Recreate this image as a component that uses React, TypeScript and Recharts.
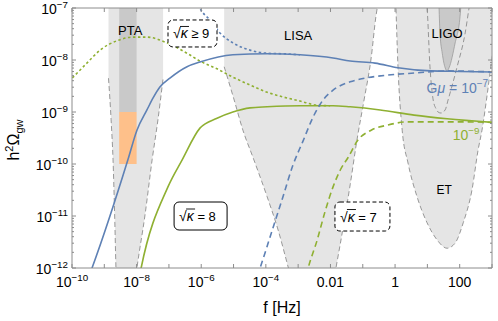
import { Area, ComposedChart, Line, ReferenceDot, XAxis, YAxis } from 'recharts'

const BLUE = '#5e81b5'
const GREEN = '#8fb032'
const LIGHT = '#e5e5e5'
const DARK = '#c9c9c9'
const PTA_ORANGE = '#fec08a'
const EDGE = '#808080'
const FRAME = '#8c8c8c'
const FONT = '"Liberation Sans", Arial, sans-serif'

// fills run a little past the top frame and get clipped there
const TOP = -6.8

// all values are log10: f in Hz, h^2 Omega_gw
const xTicks = [-10, -9, -8, -7, -6, -5, -4, -3, -2, -1, 0, 1, 2, 3]
const xPowLabels = [-10, -8, -6, -4]
const xPlainLabels: Record<string, string> = { '-2': '0.01', '0': '1', '2': '100' }
const yDecades = [-12, -11, -10, -9, -8, -7]
const yMantissas = [2, 3, 4, 5, 6, 7, 8, 9]

// G mu = 1e-7
const blue8F = [-9.5, -9.38, -8.27, -7.99, -7.68, -7.49, -7.28, -6.97, -6.44, -6.04, -5.02, -3.96, -2.94, -1.92, -1.39, -0.62, 0.09, 1.11, 2.0, 3.03]
const blue8H = [-12.2, -12.0, -9.92, -9.35, -8.96, -8.73, -8.52, -8.35, -8.13, -8.04, -7.9, -7.88, -7.9, -7.96, -8.02, -8.06, -8.15, -8.21, -8.22, -8.23]
const blue9F = [-6.2, -6.04, -5.73, -5.42, -5.02, -4.49, -3.96, -3.47, -2.94]
const blue9H = [-6.75, -7.0, -7.23, -7.48, -7.67, -7.81, -7.87, -7.88, -7.9]
const blue7F = [-4.37, -4.18, -3.78, -3.47, -3.16, -2.85, -2.54, -2.23, -1.92, -1.39, -0.93, -0.22, 0.62, 1.64, 3.03]
const blue7H = [-12.33, -12.0, -11.23, -10.63, -10.02, -9.56, -9.1, -8.77, -8.58, -8.42, -8.35, -8.29, -8.25, -8.21, -8.23]

// G mu = 1e-9
const green8F = [-7.92, -7.86, -7.03, -6.59, -6.04, -5.51, -5.02, -4.49, -3.96, -2.94, -1.92, -1.39, -0.46, 0.59, 1.61, 3.03]
const green8H = [-12.19, -12.0, -10.44, -9.92, -9.31, -9.12, -9.0, -8.92, -8.9, -8.88, -8.88, -8.9, -8.96, -9.06, -9.13, -9.2]
const green9F = [-10.1, -10.0, -9.54, -9.13, -8.61, -8.11, -7.68, -7.06, -6.44, -6.04, -5.51, -5.02, -4.49, -3.96, -3.47, -2.94, -2.41, -2.01]
const green9H = [-8.41, -8.35, -8.06, -7.81, -7.63, -7.56, -7.56, -7.67, -7.87, -8.02, -8.17, -8.33, -8.48, -8.62, -8.71, -8.79, -8.87, -8.88]
const green7F = [-2.82, -2.69, -2.41, -2.17, -1.92, -1.7, -1.45, -1.15, -0.74, -0.22, 0.4, 1.24, 2.17, 3.03]
const green7H = [-12.33, -12.0, -11.46, -10.92, -10.44, -10.12, -9.87, -9.54, -9.35, -9.25, -9.19, -9.19, -9.19, -9.2]

// sensitivity regions: lower edge, filled up to the top
const ptaF = [-8.87, -8.79, -8.73, -8.68, -8.64, -8.61, -8.12, -7.99, -7.74, -7.52, -7.34, -7.18]
const ptaLo = [-8.35, -9.15, -9.92, -10.98, -12.0, -12.62, -12.62, -12.0, -10.98, -9.92, -9.15, -8.35]
const ptaBandF = [-8.54, -8.0]
const ptaBandLo = [-9, -9]
const ptaSignalF = [-8.54, -8.0]
const ptaSignalLo = [-10, -10]
const ptaSignalHi = [-9, -9]
const lisaF = [-5.29, -4.98, -4.71, -4.4, -3.96, -3.62, -3.31, -3.03, -2.01, -1.83, -1.61, -1.39, -1.18, -0.96, -0.74, -0.59, -0.53]
const lisaLo = [-8.13, -8.77, -9.35, -9.87, -10.63, -11.27, -11.98, -12.62, -12.62, -12.0, -11.23, -10.4, -9.54, -8.77, -7.96, -7.15, -6.92]
const etF = [0.02, 0.09, 0.22, 0.4, 0.68, 0.99, 1.3, 1.61, 1.86, 2.11, 2.38, 2.57, 2.69, 2.85, 2.97, 3.13]
const etLo = [-6.85, -8.13, -9.35, -9.98, -10.63, -11.13, -11.46, -11.62, -11.52, -11.13, -10.5, -9.73, -9.35, -8.67, -8.1, -7.42]
const ligoF = [1.355, 1.39, 1.46, 1.55, 1.61, 1.67, 1.86, 2.01, 2.05]
const ligoLo = [-6.85, -7.48, -7.87, -8.15, -8.21, -8.15, -7.67, -7.17, -6.85]
const ligoCurveF = [0.96, 0.99, 1.08, 1.18, 1.27, 1.33, 1.42, 1.55, 1.64, 1.92, 2.17, 2.29, 2.33]
const ligoCurveH = [-6.85, -7.0, -8.13, -8.77, -8.94, -9.0, -9.02, -8.96, -8.77, -8.13, -7.48, -7.0, -6.85]

const curve = (f: number[], h: number[]) => f.map((x, i) => ({ x, y: h[i] }))
const region = (f: number[], lo: number[], hi?: number[]) =>
  f.map((x, i) => ({ x, r: [lo[i], hi ? hi[i] : TOP] }))

const yTicks = yDecades.flatMap((d) =>
  d < -7 ? [d, ...yMantissas.map((k) => d + Math.log10(k))] : [d]
)
const isDecade = (v: number) => Math.abs(v - Math.round(v)) < 1e-6

function Pow10({ x, y, n, anchor = 'middle', size = 14, fill = '#000' }: any) {
  return (
    <text x={x} y={y} textAnchor={anchor} fontFamily={FONT} fontSize={size} fill={fill}>
      10
      <tspan dy={-size * 0.44} fontSize={size * 0.7}>
        {'\u2212' + Math.abs(n)}
      </tspan>
    </text>
  )
}

function BottomTick({ x, y, payload }: any) {
  const v = Math.round(payload.value)
  return (
    <g>
      <line x1={x} x2={x} y1={y} y2={y - 4} stroke={FRAME} />
      {xPowLabels.includes(v) && <Pow10 x={x} y={y + 19} n={v} />}
      {xPlainLabels[String(v)] && (
        <text x={x} y={y + 19} textAnchor="middle" fontFamily={FONT} fontSize={14}>
          {xPlainLabels[String(v)]}
        </text>
      )}
    </g>
  )
}

function TopTick({ x, y }: any) {
  return <line x1={x} x2={x} y1={y} y2={y + 4} stroke={FRAME} />
}

function LeftTick({ x, y, payload }: any) {
  const major = isDecade(payload.value)
  return (
    <g>
      <line x1={x} x2={x + (major ? 4 : 2)} y1={y} y2={y} stroke={FRAME} />
      {major && <Pow10 x={x - 4} y={y + 6} n={Math.round(payload.value)} anchor="end" />}
    </g>
  )
}

function RightTick({ x, y, payload }: any) {
  const major = isDecade(payload.value)
  return <line x1={x} x2={x - (major ? 4 : 2)} y1={y} y2={y} stroke={FRAME} />
}

function TextLabel({ viewBox, text, size = 13 }: any) {
  return (
    <text x={viewBox.x} y={viewBox.y + size * 0.36} textAnchor="middle" fontFamily={FONT} fontSize={size}>
      {text}
    </text>
  )
}

function KappaBox({ viewBox, rel, w, h, dashed }: any) {
  const { x, y } = viewBox
  const x0 = x - w / 2 + 5
  const base = y + 5
  return (
    <g>
      <rect
        x={x - w / 2}
        y={y - h / 2}
        width={w}
        height={h}
        rx={5}
        fill="#fff"
        stroke="#000"
        strokeWidth={1}
        strokeDasharray={dashed ? '4 2.5' : undefined}
      />
      <text x={x0} y={base} fontFamily={FONT} fontSize={14}>
        {'\u221a'}
        <tspan fontStyle="italic">{'\u03ba'}</tspan>
        <tspan fontSize={13}>{' ' + rel}</tspan>
      </text>
      <line x1={x0 + 7} x2={x0 + 16} y1={base - 12} y2={base - 12} stroke="#000" strokeWidth={0.9} />
    </g>
  )
}

function GmuLabel({ viewBox }: any) {
  return (
    <text x={viewBox.x} y={viewBox.y + 5} textAnchor="end" fontFamily={FONT} fontSize={14} fill={BLUE}>
      G<tspan fontStyle="italic">{'\u03bc'}</tspan> = 10
      <tspan dy={-6} fontSize={10}>
        {'\u22127'}
      </tspan>
    </text>
  )
}

function GreenLabel({ viewBox }: any) {
  return <Pow10 x={viewBox.x} y={viewBox.y + 5} n={-9} fill={GREEN} />
}

export default function App() {
  const gray = { stroke: EDGE, strokeWidth: 0.8, strokeDasharray: '5 3' }
  const axisCommon = {
    allowDataOverflow: true,
    interval: 0 as const,
    tickSize: 0,
    tickMargin: 0,
    tickLine: false,
    axisLine: { stroke: FRAME },
  }
  return (
    <div style={{ position: 'absolute', left: 0, top: 0, width: 498, height: 321, background: '#fff' }}>
      <ComposedChart width={498} height={321} margin={{ top: 7, right: 5, bottom: 52, left: 71 }}>
        <XAxis type="number" dataKey="x" domain={[-10, 3]} ticks={xTicks} height={1} tick={<BottomTick />} {...axisCommon} />
        <XAxis xAxisId="top" orientation="top" type="number" dataKey="x" domain={[-10, 3]} ticks={xTicks} height={1} tick={<TopTick />} {...axisCommon} />
        <YAxis type="number" domain={[-12, -7]} ticks={yTicks} width={1} tick={<LeftTick />} {...axisCommon} />
        <YAxis yAxisId="right" orientation="right" type="number" domain={[-12, -7]} ticks={yTicks} width={1} tick={<RightTick />} {...axisCommon} />

        <Area data={region(ptaF, ptaLo)} dataKey="r" type="monotone" fill={LIGHT} fillOpacity={1} {...gray} isAnimationActive={false} dot={false} activeDot={false} />
        <Area data={region(ptaBandF, ptaBandLo)} dataKey="r" type="linear" fill={DARK} fillOpacity={1} stroke="none" isAnimationActive={false} dot={false} activeDot={false} />
        <Area data={region(ptaSignalF, ptaSignalLo, ptaSignalHi)} dataKey="r" type="linear" fill={PTA_ORANGE} fillOpacity={1} stroke="none" isAnimationActive={false} dot={false} activeDot={false} />
        <Area data={region(lisaF, lisaLo)} dataKey="r" type="monotone" fill={LIGHT} fillOpacity={1} {...gray} isAnimationActive={false} dot={false} activeDot={false} />
        <Area data={region(etF, etLo)} dataKey="r" type="monotone" fill={LIGHT} fillOpacity={1} {...gray} isAnimationActive={false} dot={false} activeDot={false} />
        <Area data={region(ligoF, ligoLo)} dataKey="r" type="monotone" fill={DARK} fillOpacity={1} stroke="#9a9a9a" strokeWidth={0.8} isAnimationActive={false} dot={false} activeDot={false} />
        <Line data={curve(ligoCurveF, ligoCurveH)} dataKey="y" type="monotone" {...gray} dot={false} activeDot={false} isAnimationActive={false} />

        <Line data={curve(green9F, green9H)} dataKey="y" type="monotone" stroke={GREEN} strokeWidth={1.6} strokeDasharray="2.5 2.5" dot={false} activeDot={false} isAnimationActive={false} />
        <Line data={curve(green7F, green7H)} dataKey="y" type="monotone" stroke={GREEN} strokeWidth={1.6} strokeDasharray="6 4" dot={false} activeDot={false} isAnimationActive={false} />
        <Line data={curve(green8F, green8H)} dataKey="y" type="monotone" stroke={GREEN} strokeWidth={1.6} dot={false} activeDot={false} isAnimationActive={false} />
        <Line data={curve(blue9F, blue9H)} dataKey="y" type="monotone" stroke={BLUE} strokeWidth={1.6} strokeDasharray="2.5 2.5" dot={false} activeDot={false} isAnimationActive={false} />
        <Line data={curve(blue7F, blue7H)} dataKey="y" type="monotone" stroke={BLUE} strokeWidth={1.6} strokeDasharray="6 4" dot={false} activeDot={false} isAnimationActive={false} />
        <Line data={curve(blue8F, blue8H)} dataKey="y" type="monotone" stroke={BLUE} strokeWidth={1.6} dot={false} activeDot={false} isAnimationActive={false} />

        <ReferenceDot x={-8.2} y={-7.42} r={0} fill="none" stroke="none" label={(p: any) => <TextLabel {...p} text="PTA" />} />
        <ReferenceDot x={-3.0} y={-7.52} r={0} fill="none" stroke="none" label={(p: any) => <TextLabel {...p} text="LISA" />} />
        <ReferenceDot x={1.61} y={-7.48} r={0} fill="none" stroke="none" label={(p: any) => <TextLabel {...p} text="LIGO" />} />
        <ReferenceDot x={1.52} y={-10.5} r={0} fill="none" stroke="none" label={(p: any) => <TextLabel {...p} text="ET" size={12} />} />
        <ReferenceDot x={2.88} y={-8.54} r={0} fill="none" stroke="none" label={(p: any) => <GmuLabel {...p} />} />
        <ReferenceDot x={2.2} y={-9.44} r={0} fill="none" stroke="none" label={(p: any) => <GreenLabel {...p} />} />
        <ReferenceDot x={-6.27} y={-7.49} r={0} fill="none" stroke="none" label={(p: any) => <KappaBox {...p} rel={'\u2265 9'} w={49} h={27} dashed />} />
        <ReferenceDot x={-6.02} y={-11.0} r={0} fill="none" stroke="none" label={(p: any) => <KappaBox {...p} rel="= 8" w={53} h={28} />} />
        <ReferenceDot x={-1.01} y={-11.01} r={0} fill="none" stroke="none" label={(p: any) => <KappaBox {...p} rel="= 7" w={55} h={29} dashed />} />
      </ComposedChart>
      <svg width={498} height={321} style={{ position: 'absolute', left: 0, top: 0, pointerEvents: 'none' }}>
        <text transform="translate(19,140) rotate(-90)" textAnchor="middle" fontFamily={FONT} fontSize={16}>
          h<tspan dy={-6} fontSize={11}>2</tspan>
          <tspan dy={6}>{'\u03a9'}</tspan>
          <tspan dy={4} fontSize={11}>gw</tspan>
        </text>
        <text x={282} y={313} textAnchor="middle" fontFamily={FONT} fontSize={16}>
          f [Hz]
        </text>
      </svg>
    </div>
  )
}
